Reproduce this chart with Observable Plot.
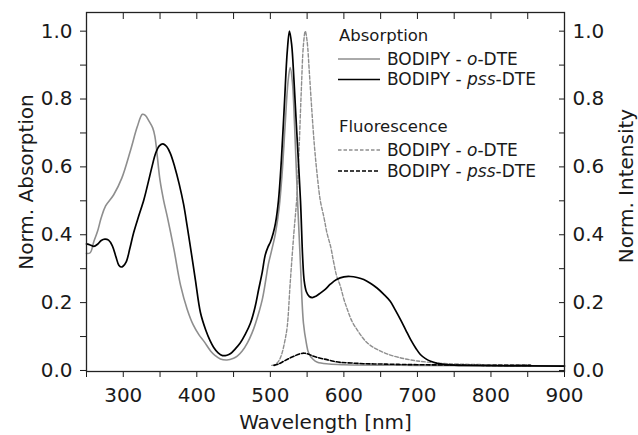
<!DOCTYPE html>
<html>
<head>
<meta charset="utf-8">
<script src="https://cdn.jsdelivr.net/npm/d3@7"></script>
<script src="https://cdn.jsdelivr.net/npm/@observablehq/plot@0.6"></script>
<style>
  html, body { margin: 0; padding: 0; background: #fff; }
  #wrap { position: relative; width: 638px; height: 435px; font-family: "DejaVu Sans", sans-serif; }
  #legend { position: absolute; left: 0; top: 0; pointer-events: none; }
</style>
</head>
<body>
<div id="wrap"></div>
<script>
// ---- data (wavelength nm, normalized value) ----
const absOrtho = [
  [250,0.345],[255,0.347],[260,0.38],[265,0.41],[270,0.45],[276,0.485],[287,0.518],[298,0.567],
  [310,0.65],[319,0.718],[326,0.755],[330,0.752],[335,0.735],[340,0.715],[343,0.69],[350,0.56],
  [355,0.50],[360,0.452],[369,0.356],[378,0.25],[387,0.18],[395,0.135],[403,0.105],[410,0.085],
  [419,0.057],[425,0.044],[432,0.034],[441,0.031],[450,0.036],[455,0.042],[462,0.058],[469,0.082],
  [475,0.11],[480,0.14],[489,0.209],[494,0.27],[497,0.31],[502,0.356],[507,0.405],[512,0.48],
  [516,0.58],[520,0.72],[524,0.85],[527,0.893],[530,0.85],[533,0.72],[537,0.5],[541,0.31],
  [545,0.14],[549,0.08],[552,0.052],[558,0.033],[564,0.024],[580,0.019],[600,0.017],[700,0.015],
  [800,0.014],[900,0.014]
];
const absPss = [
  [250,0.373],[255,0.37],[260,0.366],[265,0.372],[270,0.383],[275,0.387],[280,0.384],[285,0.368],
  [290,0.335],[294,0.31],[297,0.305],[300,0.308],[304,0.32],[309,0.36],[314,0.405],[321,0.455],
  [328,0.503],[334,0.555],[339,0.60],[344,0.64],[349,0.662],[354,0.668],[359,0.66],[364,0.64],
  [370,0.6],[376,0.55],[382,0.49],[387,0.424],[393,0.34],[398,0.268],[405,0.17],[412,0.12],
  [418,0.088],[423,0.068],[429,0.052],[435,0.044],[441,0.045],[446,0.05],[452,0.063],[459,0.081],
  [466,0.107],[473,0.14],[479,0.185],[484,0.238],[489,0.29],[493,0.34],[497,0.365],[500,0.378],
  [504,0.405],[507,0.434],[511,0.5],[515,0.62],[519,0.78],[523,0.94],[526,1.0],[529,0.96],
  [532,0.86],[536,0.7],[541,0.5],[544,0.33],[546,0.265],[549,0.232],[553,0.218],[557,0.215],
  [562,0.219],[568,0.228],[575,0.24],[582,0.255],[590,0.268],[600,0.276],[609,0.277],[618,0.274],
  [627,0.268],[636,0.257],[645,0.243],[654,0.225],[663,0.204],[670,0.178],[677,0.15],[684,0.12],
  [691,0.09],[698,0.065],[704,0.047],[711,0.035],[718,0.027],[727,0.021],[736,0.018],[750,0.016],
  [763,0.015],[800,0.014],[900,0.013]
];
const fluOrtho = [
  [502,0.015],[507,0.018],[512,0.03],[516,0.052],[520,0.09],[523,0.13],[527,0.258],[532,0.405],
  [536,0.51],[539,0.65],[542,0.82],[545,0.96],[547.5,1.0],[550,0.97],[553,0.88],[556,0.78],
  [560,0.66],[564,0.57],[568,0.5],[573,0.45],[577,0.405],[582,0.365],[586,0.32],[590,0.28],
  [595,0.25],[600,0.21],[605,0.178],[611,0.145],[618,0.12],[625,0.098],[632,0.081],[641,0.067],
  [650,0.057],[661,0.047],[672,0.04],[686,0.033],[700,0.028],[727,0.022],[754,0.019],[800,0.017],
  [854,0.016]
];
const fluPss = [
  [505,0.015],[512,0.02],[518,0.027],[525,0.035],[532,0.042],[540,0.049],[546,0.051],[552,0.048],
  [559,0.042],[568,0.036],[577,0.032],[586,0.027],[595,0.024],[610,0.022],[627,0.02],[650,0.019],
  [672,0.018],[700,0.017],[750,0.016],[800,0.015],[854,0.015]
];
const xTickLabels = [300, 400, 500, 600, 700, 800, 900];
const xTickMarks = [250, 300, 350, 400, 450, 500, 550, 600, 650, 700, 750, 800, 850, 900];
const yTickLabels = [0, 0.2, 0.4, 0.6, 0.8, 1.0];
const yTickMarks = [0, 0.1, 0.2, 0.3, 0.4, 0.5, 0.6, 0.7, 0.8, 0.9, 1.0];

const GRAY = "#8e8e8e";
const fmt = d3.format(".1f");

const chart = Plot.plot({
  width: 638, height: 435,
  marginLeft: 86, marginRight: 74, marginTop: 12, marginBottom: 64,
  style: { fontFamily: "DejaVu Sans", fontSize: "20px", color: "#1a1a1a", background: "#fff" },
  x: { domain: [250, 900] },
  y: { domain: [-0.003, 1.055] },
  marks: [
    // ticks
    Plot.axisX({ ticks: xTickMarks, tickSize: 6, fill: "none", label: null }),
    Plot.axisX({ ticks: xTickLabels, tickSize: 0, tickPadding: 16, tickFormat: d3.format("d"), label: null }),
    Plot.axisX({ anchor: "top", ticks: xTickMarks, tickSize: -6, fill: "none", label: null }),
    Plot.axisY({ ticks: yTickMarks, tickSize: 6, fill: "none", label: null }),
    Plot.axisY({ ticks: yTickLabels, tickSize: 0, tickPadding: 14, tickFormat: fmt, label: null }),
    Plot.axisY({ anchor: "right", ticks: yTickMarks, tickSize: -6, fill: "none", label: null }),
    Plot.axisY({ anchor: "right", ticks: yTickLabels, tickSize: 0, tickPadding: 8, tickFormat: fmt, label: null }),
    // curves
    Plot.line(absOrtho, { x: d => d[0], y: d => d[1], stroke: GRAY, strokeWidth: 1.6, curve: "catmull-rom" }),
    Plot.line(fluOrtho, { x: d => d[0], y: d => d[1], stroke: GRAY, strokeWidth: 1.4, strokeDasharray: "3.5,2", curve: "catmull-rom" }),
    Plot.line(fluPss, { x: d => d[0], y: d => d[1], stroke: "#000", strokeWidth: 1.6, strokeDasharray: "4,2", curve: "catmull-rom" }),
    Plot.line(absPss, { x: d => d[0], y: d => d[1], stroke: "#000", strokeWidth: 1.7, curve: "catmull-rom" }),
    Plot.frame({ stroke: "#222", strokeWidth: 1.3 }),
    // axis titles
    Plot.text(["Norm. Absorption"], { frameAnchor: "left", textAnchor: "middle", lineAnchor: "middle", rotate: -90, dx: -60, dy: -10, fontSize: 20, fill: "#1a1a1a" }),
    Plot.text(["Norm. Intensity"], { frameAnchor: "right", textAnchor: "middle", lineAnchor: "middle", rotate: -90, dx: 62, dy: -6, fontSize: 20, fill: "#1a1a1a" }),
    Plot.text(["Wavelength [nm]"], { frameAnchor: "bottom", textAnchor: "middle", lineAnchor: "middle", dy: 51, fontSize: 20, fill: "#1a1a1a" })
  ]
});

const wrap = document.getElementById("wrap");
wrap.appendChild(chart);

// legend overlay (inside the plot frame, upper right)
const legendGroups = ["Absorption", "Fluorescence"];
const legendItems = [
  { group: 0, stroke: GRAY, dash: null, italic: "o" },
  { group: 0, stroke: "#000", dash: null, italic: "pss" },
  { group: 1, stroke: GRAY, dash: "3.5,2", italic: "o" },
  { group: 1, stroke: "#000", dash: "4,2", italic: "pss" }
];
const ns = "http://www.w3.org/2000/svg";
const lg = document.createElementNS(ns, "svg");
lg.setAttribute("id", "legend");
lg.setAttribute("width", 638);
lg.setAttribute("height", 435);
lg.setAttribute("font-family", "DejaVu Sans");
lg.setAttribute("font-size", "17");
const groupBase = [41, 131.5];
const itemBase = [[64.5, 85], [155.5, 176.5]];
legendGroups.forEach((g, gi) => {
  const t = document.createElementNS(ns, "text");
  t.setAttribute("x", 339); t.setAttribute("y", groupBase[gi]);
  t.setAttribute("font-size", "16.5");
  t.setAttribute("fill", "#1a1a1a");
  t.textContent = g;
  lg.appendChild(t);
});
const counters = [0, 0];
legendItems.forEach(it => {
  const k = counters[it.group]++;
  const base = itemBase[it.group][k];
  const ly = base - 5.5;
  const l = document.createElementNS(ns, "line");
  l.setAttribute("x1", 338); l.setAttribute("x2", 380);
  l.setAttribute("y1", ly); l.setAttribute("y2", ly);
  l.setAttribute("stroke", it.stroke);
  l.setAttribute("stroke-width", it.stroke === GRAY ? 1.5 : 1.7);
  if (it.dash) l.setAttribute("stroke-dasharray", it.dash);
  lg.appendChild(l);
  const t = document.createElementNS(ns, "text");
  t.setAttribute("x", 387); t.setAttribute("y", base);
  t.setAttribute("fill", "#1a1a1a");
  const a = document.createElementNS(ns, "tspan"); a.textContent = "BODIPY - ";
  const b = document.createElementNS(ns, "tspan"); b.textContent = it.italic; b.setAttribute("font-style", "italic");
  const c = document.createElementNS(ns, "tspan"); c.textContent = "-DTE";
  t.appendChild(a); t.appendChild(b); t.appendChild(c);
  lg.appendChild(t);
});
wrap.appendChild(lg);
</script>
</body>
</html>
